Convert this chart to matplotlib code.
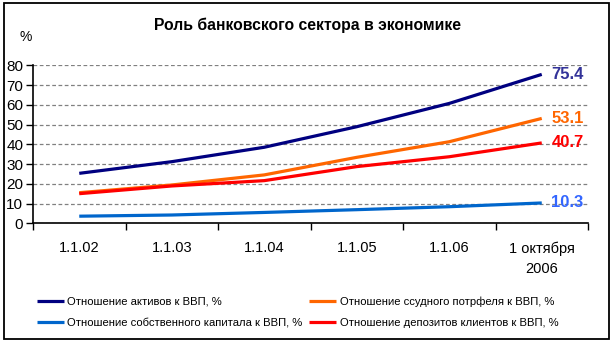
import matplotlib
matplotlib.use("Agg")
import matplotlib.pyplot as plt
from matplotlib.patches import Rectangle

plt.rcParams["font.family"] = ["Liberation Sans", "DejaVu Sans"]

categories = ["1.1.02", "1.1.03", "1.1.04", "1.1.05", "1.1.06", "1 октября\n2006"]
assets = [25.3, 31.2, 38.5, 48.9, 60.7, 75.4]
loans = [15.5, 19.4, 24.5, 33.4, 41.3, 53.1]
capital = [3.6, 4.2, 5.5, 6.9, 8.4, 10.3]
deposits = [15.0, 18.9, 21.6, 28.7, 33.7, 40.7]
yticks = [0, 10, 20, 30, 40, 50, 60, 70, 80]

names_series = ["Отношение активов к ВВП, %",
                "Отношение собственного капитала к ВВП, %",
                "Отношение ссудного потрфеля к ВВП, %",
                "Отношение депозитов клиентов к ВВП, %"]

W, H = 613, 344
fig = plt.figure(figsize=(W / 100, H / 100), dpi=100)
fig.patch.set_facecolor("white")

ax = fig.add_axes([33 / W, 1 - 223.3 / H, (588 - 33) / W, (223.3 - 65.3) / H])
x = list(range(len(categories)))

lw = 2.3
l_assets, = ax.plot(x, assets, color="#000080", lw=lw, solid_capstyle="butt", zorder=3)
l_cap, = ax.plot(x, capital, color="#0066CC", lw=lw, solid_capstyle="butt", zorder=3)
l_loans, = ax.plot(x, loans, color="#FF6600", lw=lw, solid_capstyle="butt", zorder=3)
l_dep, = ax.plot(x, deposits, color="#FF0000", lw=lw, solid_capstyle="butt", zorder=4)

label_colors = ["#333399", "#3366FF", "#FF6600", "#FF0000"]
for series, c in zip([assets, capital, loans, deposits], label_colors):
    ax.annotate(f"{series[-1]:.1f}", (x[-1], series[-1]), xytext=(7, 0),
                textcoords="offset points", ha="left", va="center",
                fontsize=12, fontweight="bold", color=c, annotation_clip=False)

ax.set_xlim(-0.5, len(categories) - 0.5)
ax.set_ylim(0, 80)
ax.set_yticks(yticks)
ax.set_yticklabels([str(v) for v in yticks], fontsize=11)
ax.set_xticks([i - 0.5 for i in range(len(categories) + 1)])
ax.set_xticklabels([])
ax.set_xticks(x, minor=True)
ax.set_xticklabels(categories, minor=True, fontsize=10.5)
ax.tick_params(axis="x", which="minor", length=0, pad=13)
ax.tick_params(axis="x", which="major", length=5, width=1, direction="out")
ax.tick_params(axis="y", length=5, width=1, direction="out", pad=2)
for t in ax.get_xticklabels(minor=True):
    t.set_linespacing(1.6)

for s in ["top", "right"]:
    ax.spines[s].set_visible(False)
for s in ["left", "bottom"]:
    ax.spines[s].set_linewidth(1.2)
ax.yaxis.grid(True, linestyle=(0, (3, 2)), color="#808080", lw=0.9)
ax.set_axisbelow(True)

fig.text(308 / W, 1 - 25 / H, "Роль банковского сектора в экономике",
         ha="center", va="center", fontsize=11.3, fontweight="bold")
fig.text(26 / W, 1 - 37 / H, "%", ha="center", va="center", fontsize=10)

leg = fig.legend([l_assets, l_cap, l_loans, l_dep], names_series, ncol=2,
                 loc="center left", bbox_to_anchor=(37 / W, 1 - 312 / H),
                 frameon=False, fontsize=8.1, handlelength=2.4, handletextpad=0.3,
                 columnspacing=0.6, labelspacing=1.0, borderaxespad=0, borderpad=0)

fig.patches.append(Rectangle((4 / W, 1 - 339 / H), (608.5 - 4) / W, (339 - 3) / H,
                             transform=fig.transFigure, fill=False, edgecolor="black",
                             lw=1.3, zorder=10))

fig.savefig("out.png", dpi=100)
